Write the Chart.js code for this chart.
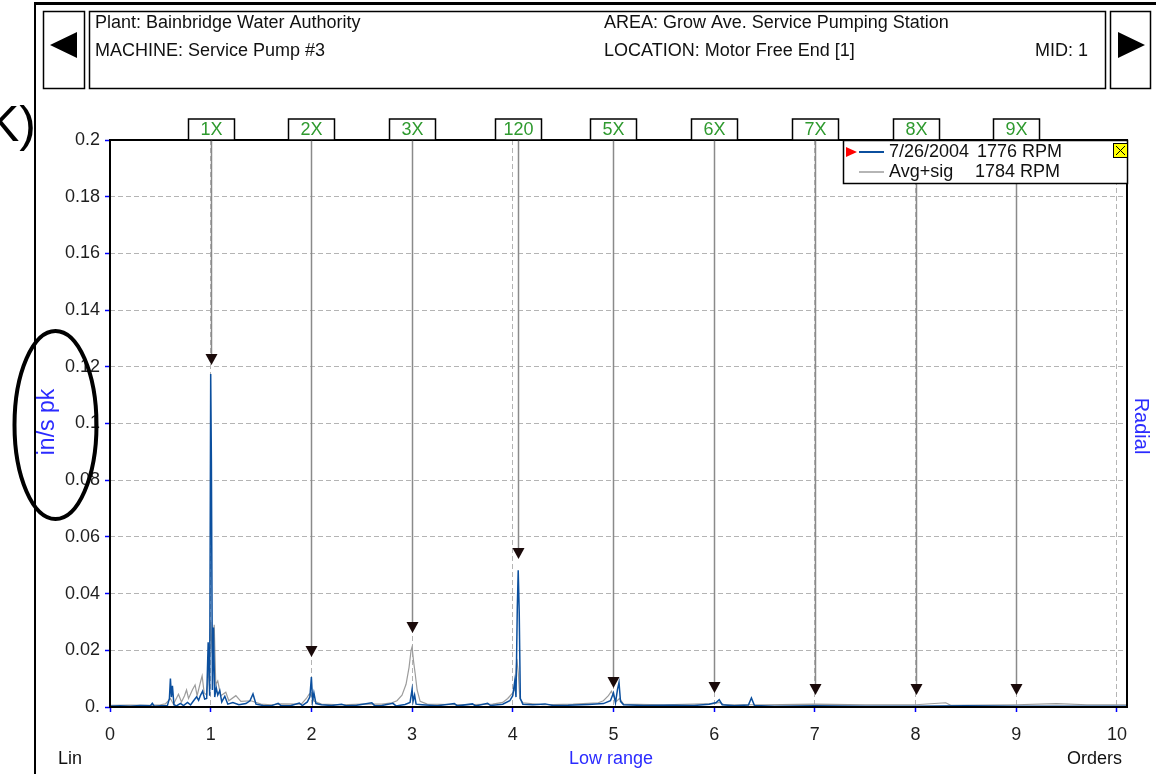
<!DOCTYPE html>
<html>
<head>
<meta charset="utf-8">
<script src="https://cdn.jsdelivr.net/npm/chart.js@4/dist/chart.umd.min.js"></script>
<style>
  html, body { margin: 0; padding: 0; background: #fff; overflow: hidden; }
  #wrap { position: relative; width: 1156px; height: 774px; }
</style>
</head>
<body>
<div id="wrap"><canvas id="c" width="1156" height="774"></canvas></div>
<script>
// Spectrum of 7/26/2004 (1776 RPM), orders vs in/s pk
const spectrumOrders = [0, 0.1, 0.2, 0.3, 0.4, 0.42, 0.44, 0.5, 0.57, 0.59, 0.6, 0.61, 0.62, 0.635, 0.66, 0.7, 0.73, 0.77, 0.8, 0.83, 0.86, 0.88, 0.9, 0.92, 0.94, 0.96, 0.975, 0.99, 1.0, 1.007, 1.017, 1.028, 1.04, 1.055, 1.07, 1.09, 1.11, 1.14, 1.17, 1.22, 1.28, 1.35, 1.39, 1.42, 1.45, 1.52, 1.6, 1.67, 1.7, 1.8, 1.88, 1.91, 1.96, 1.985, 2.0, 2.012, 2.025, 2.045, 2.1, 2.2, 2.3, 2.35, 2.45, 2.6, 2.63, 2.7, 2.81, 2.84, 2.93, 2.98, 3.0, 3.01, 3.025, 3.04, 3.1, 3.25, 3.42, 3.45, 3.6, 3.63, 3.75, 3.78, 3.9, 3.97, 4.0, 4.02, 4.032, 4.045, 4.054, 4.064, 4.075, 4.1, 4.2, 4.32, 4.4, 4.55, 4.75, 4.9, 4.97, 5.0, 5.02, 5.04, 5.055, 5.07, 5.1, 5.3, 5.55, 5.8, 5.95, 6.02, 6.05, 6.08, 6.2, 6.34, 6.37, 6.4, 6.6, 7.0, 7.5, 8.0, 8.5, 9.0, 9.5, 10.1];
const spectrumAmp = [0.0003, 0.0004, 0.0003, 0.0005, 0.0004, 0.0013, 0.0003, 0.0004, 0.0005, 0.003, 0.0100, 0.0035, 0.0075, 0.0008, 0.0004, 0.0013, 0.0005, 0.0016, 0.0007, 0.0022, 0.0036, 0.0024, 0.0042, 0.0056, 0.0028, 0.0030, 0.0228, 0.0040, 0.1175, 0.0860, 0.0060, 0.0280, 0.0035, 0.0068, 0.0042, 0.0058, 0.0018, 0.0038, 0.0010, 0.0016, 0.0008, 0.0012, 0.0022, 0.0046, 0.0010, 0.0005, 0.0004, 0.0013, 0.0004, 0.0005, 0.0014, 0.0005, 0.0018, 0.0036, 0.0106, 0.0022, 0.0050, 0.0012, 0.0008, 0.0005, 0.0010, 0.0004, 0.0006, 0.0015, 0.0004, 0.0005, 0.0013, 0.0004, 0.0009, 0.0016, 0.0062, 0.0020, 0.0042, 0.0010, 0.0008, 0.0004, 0.0012, 0.0004, 0.0011, 0.0004, 0.0013, 0.0005, 0.0010, 0.0022, 0.0040, 0.0092, 0.0035, 0.0350, 0.0482, 0.0335, 0.0030, 0.0010, 0.0008, 0.0011, 0.0005, 0.0006, 0.0009, 0.0012, 0.0022, 0.0050, 0.0015, 0.0062, 0.0086, 0.0020, 0.0008, 0.0005, 0.0006, 0.0005, 0.0010, 0.0016, 0.0026, 0.0008, 0.0004, 0.0007, 0.0032, 0.0005, 0.0003, 0.0004, 0.0003, 0.0003, 0.0004, 0.0003, 0.0003, 0.0003];

// Average + sigma reference spectrum (1784 RPM)
const avgOrders = [0, 0.2, 0.4, 0.5, 0.55, 0.6, 0.63, 0.68, 0.71, 0.74, 0.76, 0.78, 0.82, 0.845, 0.865, 0.9, 0.915, 0.935, 0.96, 0.98, 1.0, 1.015, 1.035, 1.05, 1.07, 1.1, 1.15, 1.18, 1.25, 1.3, 1.4, 1.5, 1.6, 1.7, 1.9, 1.95, 1.98, 2.0, 2.03, 2.1, 2.3, 2.5, 2.7, 2.8, 2.85, 2.9, 2.94, 2.97, 2.99, 3.0, 3.015, 3.03, 3.05, 3.08, 3.15, 3.5, 3.8, 3.9, 3.95, 4.0, 4.02, 4.04, 4.055, 4.07, 4.1, 4.3, 4.6, 4.85, 4.9, 4.95, 4.98, 5.0, 5.03, 5.06, 5.1, 5.5, 6.0, 6.05, 6.1, 6.5, 7.0, 7.5, 8.0, 8.3, 8.35, 9.0, 9.4, 9.7, 10.0, 10.1];
const avgAmp = [0.0006, 0.0007, 0.0006, 0.0008, 0.0011, 0.0030, 0.0010, 0.0045, 0.0018, 0.0040, 0.0060, 0.0030, 0.0062, 0.0078, 0.0040, 0.0090, 0.0110, 0.0050, 0.0042, 0.0120, 0.0300, 0.0190, 0.0290, 0.0080, 0.0092, 0.0040, 0.0052, 0.0022, 0.0040, 0.0020, 0.0022, 0.0010, 0.0008, 0.0011, 0.0010, 0.0030, 0.0046, 0.0040, 0.0020, 0.0010, 0.0008, 0.0010, 0.0010, 0.0015, 0.0022, 0.0042, 0.0080, 0.0140, 0.0200, 0.0212, 0.0160, 0.0120, 0.0060, 0.0020, 0.0010, 0.0008, 0.0010, 0.0016, 0.0030, 0.0050, 0.0062, 0.0170, 0.0120, 0.0030, 0.0015, 0.0008, 0.0010, 0.0015, 0.0022, 0.0040, 0.0056, 0.0040, 0.0020, 0.0030, 0.0010, 0.0008, 0.0012, 0.0016, 0.0008, 0.0008, 0.0010, 0.0008, 0.0008, 0.0015, 0.0006, 0.0008, 0.0012, 0.0008, 0.0008, 0.0008];

// Fault-frequency markers (orders, label, amplitude at the arrow tip)
const markerOrders = [1, 2, 3, 4.054, 5, 6, 7, 8, 9];
const markerLabels = ['1X', '2X', '3X', '120', '5X', '6X', '7X', '8X', '9X'];
const markerAmp = [0.1206, 0.0176, 0.0261, 0.0522, 0.0067, 0.0049, 0.0042, 0.0042, 0.0042];

const FONT = '"Liberation Sans", Arial, sans-serif';
const BLUE_TEXT = '#2b2bff';
const SPEC_BLUE = '#0b4f9e';
const AVG_GREY = '#9c9c9c';

const toPoints = (xs, ys) => xs.map((x, i) => ({ x: x, y: ys[i] }));

function text(ctx, str, x, y, size, color, align, rot) {
  ctx.save();
  ctx.font = size + 'px ' + FONT;
  ctx.fillStyle = color;
  ctx.textAlign = align || 'left';
  ctx.textBaseline = 'middle';
  ctx.translate(x, y);
  if (rot) ctx.rotate(rot);
  ctx.fillText(str, 0, 0);
  ctx.restore();
}

const decor = {
  id: 'decor',
  beforeDraw(chart) {
    const ctx = chart.ctx;
    ctx.save();
    ctx.fillStyle = '#fff';
    ctx.fillRect(0, 0, chart.width, chart.height);
    ctx.restore();
  },
  afterDraw(chart) {
    const { ctx, chartArea: a, scales: { x, y } } = chart;
    ctx.save();

    // page frame
    ctx.fillStyle = '#000';
    ctx.fillRect(34, 2, 1122, 3);
    ctx.fillRect(34, 2, 2, 772);

    // header boxes
    ctx.strokeStyle = '#000';
    ctx.lineWidth = 1.5;
    ctx.strokeRect(43.5, 11.5, 41, 77);
    ctx.strokeRect(89.5, 11.5, 1016, 77);
    ctx.strokeRect(1110.5, 11.5, 40, 77);
    ctx.beginPath();
    ctx.moveTo(50, 45); ctx.lineTo(77, 32); ctx.lineTo(77, 58); ctx.closePath();
    ctx.moveTo(1145, 45); ctx.lineTo(1118, 32); ctx.lineTo(1118, 58); ctx.closePath();
    ctx.fill();

    text(ctx, 'Plant: Bainbridge Water Authority', 95, 23, 18, '#111');
    text(ctx, 'MACHINE: Service Pump #3', 95, 51, 18, '#111');
    text(ctx, 'AREA: Grow Ave. Service Pumping Station', 604, 23, 18, '#111');
    text(ctx, 'LOCATION: Motor Free End [1]', 604, 51, 18, '#111');
    text(ctx, 'MID: 1', 1088, 51, 18, '#111', 'right');

    // plot frame
    ctx.lineWidth = 2;
    ctx.strokeRect(a.left, a.top, a.right - a.left, a.bottom - a.top);

    // markers
    markerOrders.forEach((o, i) => {
      const px = Math.round(x.getPixelForValue(o)) + 0.5;
      const tip = y.getPixelForValue(markerAmp[i]);
      ctx.strokeStyle = '#8a8a8a';
      ctx.lineWidth = 1.5;
      ctx.beginPath();
      ctx.moveTo(px, a.top);
      ctx.lineTo(px, tip - 10);
      ctx.stroke();
      ctx.fillStyle = '#1a0a0a';
      ctx.beginPath();
      ctx.moveTo(px - 6, tip - 11);
      ctx.lineTo(px + 6, tip - 11);
      ctx.lineTo(px, tip);
      ctx.closePath();
      ctx.fill();
      ctx.fillStyle = '#fff';
      ctx.fillRect(px - 23, a.top - 21, 46, 21);
      ctx.strokeStyle = '#000';
      ctx.lineWidth = 1.5;
      ctx.strokeRect(px - 23, a.top - 21, 46, 21);
      text(ctx, markerLabels[i], px, a.top - 10, 18, '#2f9a2f', 'center');
    });

    // legend
    const lx = 843.5, ly = 140.5;
    ctx.fillStyle = '#fff';
    ctx.fillRect(lx, ly, 284, 43);
    ctx.strokeStyle = '#000';
    ctx.lineWidth = 1.5;
    ctx.strokeRect(lx, ly, 284, 43);
    ctx.fillStyle = '#ff0000';
    ctx.beginPath();
    ctx.moveTo(846, 147); ctx.lineTo(857, 152); ctx.lineTo(846, 157); ctx.closePath();
    ctx.fill();
    ctx.lineWidth = 2;
    ctx.strokeStyle = SPEC_BLUE;
    ctx.beginPath(); ctx.moveTo(859, 152); ctx.lineTo(884, 152); ctx.stroke();
    ctx.strokeStyle = AVG_GREY;
    ctx.lineWidth = 1.5;
    ctx.beginPath(); ctx.moveTo(859, 172); ctx.lineTo(884, 172); ctx.stroke();
    text(ctx, '7/26/2004', 889, 152, 18, '#111');
    text(ctx, '1776 RPM', 977, 152, 18, '#111');
    text(ctx, 'Avg+sig', 889, 172, 18, '#111');
    text(ctx, '1784 RPM', 975, 172, 18, '#111');
    ctx.fillStyle = '#ffff00';
    ctx.fillRect(1113, 143, 14, 15);
    ctx.strokeStyle = '#000';
    ctx.lineWidth = 1;
    ctx.strokeRect(1113.5, 143.5, 14, 14);
    ctx.beginPath();
    ctx.moveTo(1116, 146); ctx.lineTo(1125, 155);
    ctx.moveTo(1125, 146); ctx.lineTo(1116, 155);
    ctx.stroke();

    // axis captions
    text(ctx, 'in/s pk', 48, 422, 23, BLUE_TEXT, 'center', -Math.PI / 2);
    text(ctx, 'Radial', 1141, 426, 20, BLUE_TEXT, 'center', Math.PI / 2);
    text(ctx, 'Lin', 58, 759, 18, '#111');
    text(ctx, 'Low range', 611, 759, 18, BLUE_TEXT, 'center');
    text(ctx, 'Orders', 1122, 759, 18, '#111', 'right');

    // hand-drawn annotation
    ctx.strokeStyle = '#000';
    ctx.lineWidth = 4;
    ctx.beginPath();
    ctx.ellipse(55.5, 425, 41, 94, 0, 0, Math.PI * 2);
    ctx.stroke();
    ctx.font = '50px ' + FONT;
    ctx.fillStyle = '#000';
    ctx.textBaseline = 'alphabetic';
    ctx.textAlign = 'left';
    ctx.fillText('K)', -14, 141);

    ctx.restore();
  }
};

const gridCommon = {
  color: '#b4b4b4',
  lineWidth: 1,
  drawTicks: true,
  tickLength: 5,
  tickColor: '#0000ff',
  tickWidth: 1.5,
  tickBorderDash: []
};

new Chart(document.getElementById('c'), {
  type: 'line',
  data: {
    datasets: [
      {
        label: '7/26/2004 1776 RPM',
        data: toPoints(spectrumOrders, spectrumAmp),
        borderColor: SPEC_BLUE,
        borderWidth: 1.5,
        pointRadius: 0,
        tension: 0,
        fill: false,
        order: 1
      },
      {
        label: 'Avg+sig 1784 RPM',
        data: toPoints(avgOrders, avgAmp),
        borderColor: AVG_GREY,
        borderWidth: 1.2,
        pointRadius: 0,
        tension: 0,
        fill: false,
        order: 2
      }
    ]
  },
  options: {
    responsive: false,
    animation: false,
    devicePixelRatio: 1,
    layout: { padding: { left: 0, top: 140, right: 29, bottom: 0 } },
    plugins: { legend: { display: false }, tooltip: { enabled: false } },
    scales: {
      x: {
        type: 'linear',
        min: 0,
        max: 10.1,
        afterFit: s => { s.height = 67; },
        ticks: {
          stepSize: 1,
          includeBounds: false,
          maxRotation: 0,
          autoSkip: false,
          padding: 12,
          color: '#1e1e1e',
          font: { family: FONT, size: 18 }
        },
        grid: gridCommon,
        border: { display: false, dash: [5, 3] }
      },
      y: {
        min: 0,
        max: 0.2,
        afterFit: s => { s.width = 110; },
        ticks: {
          stepSize: 0.02,
          padding: 5,
          color: '#1e1e1e',
          font: { family: FONT, size: 18 },
          callback: v => (v === 0 ? '0.' : String(+Number(v).toFixed(2)))
        },
        grid: gridCommon,
        border: { display: false, dash: [5, 3] }
      }
    }
  },
  plugins: [decor]
});
</script>
</body>
</html>
